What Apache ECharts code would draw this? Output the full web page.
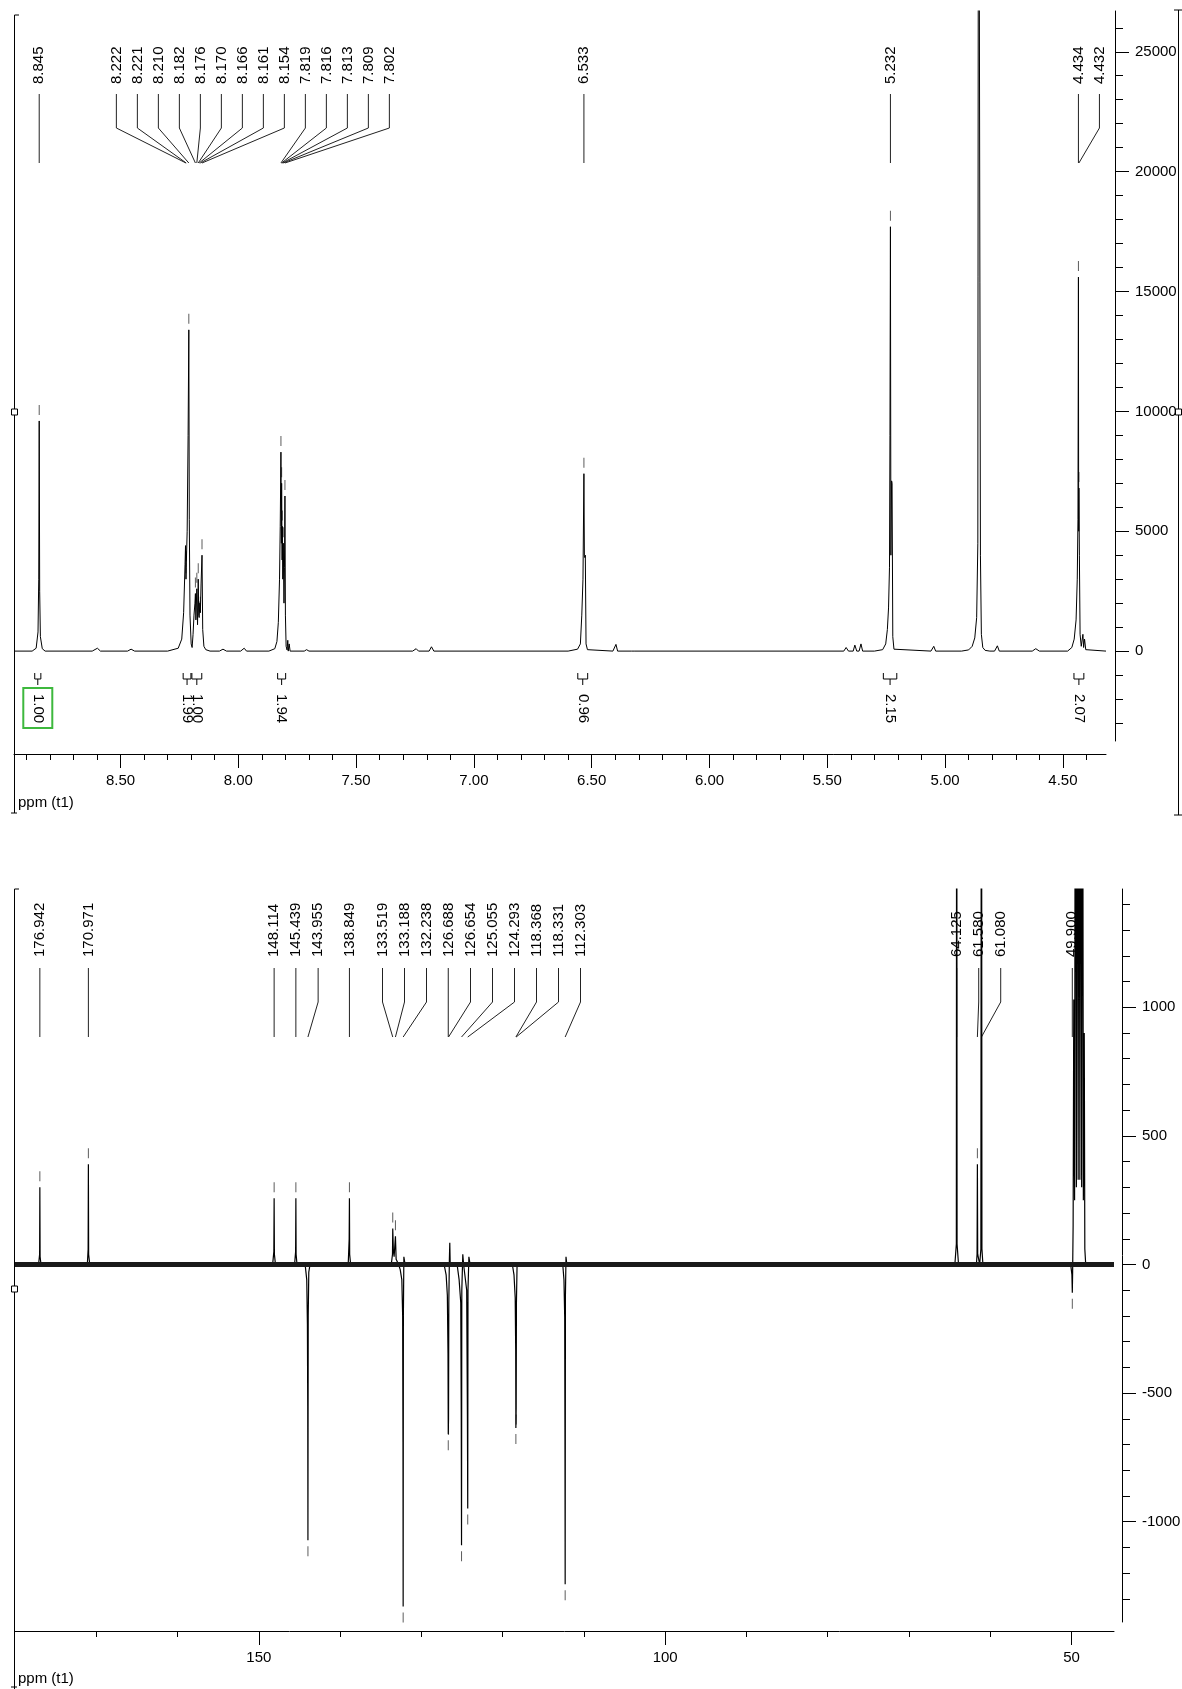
<!DOCTYPE html>
<html>
<head>
<meta charset="utf-8">
<title>NMR spectra</title>
<script src="https://cdn.jsdelivr.net/npm/echarts@6/dist/echarts.min.js"></script>
<style>
  html, body { margin: 0; padding: 0; background: #fff; }
  #chart { width: 1182px; height: 1689px; }
</style>
</head>
<body>
<div id="chart"></div>
<script>
// ---- 1H spectrum: [ppm, intensity]
const hTrace = [
  [8.952, 0], [8.875, 0], [8.858, 120], [8.850, 800], [8.847, 3000], [8.845, 9600], [8.843, 2500], [8.840, 600], [8.832, 100], [8.82, 0],
  [8.62, 0], [8.598, 120], [8.585, 0],
  [8.47, 0], [8.455, 80], [8.44, 0],
  [8.30, 0], [8.255, 120], [8.240, 500], [8.232, 1600], [8.226, 3600], [8.224, 4400], [8.222, 3000], [8.221, 3500], [8.217, 5000],
  [8.213, 9000], [8.210, 13400], [8.208, 5500], [8.205, 1500], [8.200, 300], [8.196, 150], [8.192, 700], [8.188, 1500], [8.184, 2000],
  [8.182, 2400], [8.180, 1300], [8.176, 2600], [8.173, 1100], [8.170, 3000], [8.168, 1500], [8.166, 1400], [8.163, 2000], [8.161, 1600],
  [8.158, 2800], [8.154, 4000], [8.151, 900], [8.146, 200], [8.138, 60], [8.12, 0],
  [8.08, 0], [8.065, 80], [8.05, 0], [7.99, 0], [7.975, 120], [7.965, 0],
  [7.87, 0], [7.845, 100], [7.836, 400], [7.830, 1200], [7.825, 3000], [7.822, 5200], [7.819, 8300], [7.817, 4500], [7.816, 7000],
  [7.814, 3800], [7.813, 5200], [7.811, 3000], [7.809, 4500], [7.806, 2000], [7.804, 3500], [7.802, 6470], [7.800, 1500], [7.797, 200],
  [7.793, 50], [7.790, 450], [7.788, 0], [7.784, 300], [7.780, 0],
  [7.72, 0], [7.71, 60], [7.70, 0],
  [7.26, 0], [7.245, 100], [7.235, 0], [7.19, 0], [7.18, 180], [7.17, 0],
  [6.60, 0], [6.560, 80], [6.548, 300], [6.542, 1500], [6.537, 3000], [6.533, 7400], [6.531, 4000], [6.529, 3900], [6.527, 4000],
  [6.524, 300], [6.518, 60], [6.51, 0],
  [6.41, 0], [6.397, 280], [6.39, 0], [6.33, 0], [6.325, 60], [6.32, 0],
  [5.43, 0], [5.42, 150], [5.41, 0], [5.39, 0], [5.383, 250], [5.375, 0], [5.365, 0], [5.357, 300], [5.35, 0],
  [5.30, 0], [5.265, 60], [5.252, 300], [5.245, 900], [5.240, 1800], [5.236, 3500], [5.234, 9000], [5.232, 17700], [5.230, 4000],
  [5.227, 7100], [5.225, 7000], [5.222, 600], [5.217, 80], [5.21, 0],
  [5.06, 0], [5.048, 200], [5.04, 0],
  [4.93, 0], [4.90, 50], [4.885, 200], [4.874, 550], [4.866, 1400], [4.861, 4500], [4.858, 45000], [4.853, 45000], [4.850, 4000],
  [4.846, 700], [4.84, 150], [4.83, 30], [4.81, 0],
  [4.79, 0], [4.778, 220], [4.77, 0],
  [4.63, 0], [4.615, 100], [4.60, 0],
  [4.48, 0], [4.462, 150], [4.452, 500], [4.444, 1300], [4.439, 3000], [4.436, 5500], [4.434, 15600], [4.433, 5000], [4.432, 6800],
  [4.430, 4000], [4.427, 700], [4.422, 200], [4.415, 700], [4.412, 150], [4.408, 500], [4.403, 60], [4.395, 0], [4.317, 0]
];
const hPeakPpm = [8.845, 8.222, 8.221, 8.210, 8.182, 8.176, 8.170, 8.166, 8.161, 8.154, 7.819, 7.816, 7.813, 7.809, 7.802, 6.533, 5.232, 4.434, 4.432];
const hPeakHeight = [9600, 3000, 3500, 13400, 2400, 2600, 3000, 1400, 1600, 4000, 8300, 7000, 5200, 4500, 6470, 7400, 17700, 15600, 6800];
const hIntegralRange = [[8.864, 8.838], [8.234, 8.201], [8.197, 8.155], [7.833, 7.799], [6.559, 6.517], [5.262, 5.205], [4.453, 4.411]];
const hIntegralValue = ['1.00', '1.99', '1.00', '1.94', '0.96', '2.15', '2.07'];
const hXLabels = [8.5, 8.0, 7.5, 7.0, 6.5, 6.0, 5.5, 5.0, 4.5];
const hYLabels = [0, 5000, 10000, 15000, 20000, 25000];

// ---- 13C spectrum (negative = inverted CH/CH3 lines)
const cTrace = [
  [180, 0],
  [177.1, 0], [176.97, 40], [176.942, 300], [176.91, 30], [176.8, 0],
  [171.1, 0], [171.0, 60], [170.971, 390], [170.94, 40], [170.8, 0],
  [148.3, 0], [148.15, 50], [148.114, 258], [148.08, 40], [147.95, 0],
  [145.6, 0], [145.47, 50], [145.439, 258], [145.41, 40], [145.3, 0],
  [144.3, 0], [144.1, -60], [144.02, -230], [143.98, -550], [143.955, -1072], [143.92, -200], [143.85, -30], [143.7, 0],
  [139.0, 0], [138.88, 100], [138.849, 258], [138.82, 40], [138.7, 0],
  [133.7, 0], [133.55, 40], [133.519, 140], [133.45, 60], [133.35, 30], [133.188, 110], [133.1, 20], [132.8, 0],
  [132.6, -20], [132.4, -60], [132.3, -200], [132.26, -690], [132.238, -1330], [132.21, -200], [132.15, 30], [132.0, 0],
  [127.2, 0], [126.95, -40], [126.80, -120], [126.72, -345], [126.688, -660], [126.654, -600], [126.62, -150], [126.55, 20],
  [126.50, 85], [126.45, 0],
  [125.6, 0], [125.35, -60], [125.15, -150], [125.09, -580], [125.055, -1092], [125.02, -100], [124.90, 40], [124.80, 0],
  [124.6, 0], [124.42, -100], [124.33, -600], [124.293, -949], [124.26, -100], [124.15, 30], [124.0, 0],
  [118.8, 0], [118.6, -40], [118.45, -130], [118.39, -333], [118.368, -636], [118.331, -560], [118.30, -150], [118.22, 0],
  [112.6, 0], [112.45, -60], [112.36, -203], [112.33, -643], [112.303, -1243], [112.27, -120], [112.2, 30], [112.1, 0],
  [64.35, 0], [64.17, 80], [64.125, 3000], [64.08, 80], [63.9, 0],
  [61.7, 0], [61.62, 40], [61.580, 390], [61.54, 40], [61.3, 0], [61.15, 60], [61.080, 3000], [61.02, 60], [60.9, 0],
  [50.10, 0], [49.95, -40], [49.90, -110], [49.86, -30], [49.80, 150], [49.72, 1030], [49.62, 250], [49.51, 3000], [49.40, 300],
  [49.29, 3000], [49.18, 330], [49.08, 3000], [48.97, 330], [48.86, 3000], [48.75, 300], [48.65, 3000], [48.54, 250], [48.43, 900],
  [48.36, 60], [48.25, 0],
  [44.77, 0]
];
const cPeakPpm = [176.942, 170.971, 148.114, 145.439, 143.955, 138.849, 133.519, 133.188, 132.238, 126.688, 126.654, 125.055,
  124.293, 118.368, 118.331, 112.303, 64.125, 61.580, 61.080, 49.900];
const cPeakHeight = [300, 390, 258, 258, -1072, 258, 140, 110, -1330, -660, -600, -1092, -949, -636, -560, -1243, 3000, 390, 3000, -110];
const cXLabels = [150, 100, 50];
const cYLabels = [-1000, -500, 0, 500, 1000];

const font = "'Liberation Sans', Arial, sans-serif";

function steps(from, to, step) {
  const out = [];
  for (let v = from; v <= to + step / 1000; v += step) out.push(+v.toFixed(3));
  return out;
}

function xAxes(grid, min, max, minor, major, digits, offset) {
  return [
    {
      type: 'value', gridIndex: grid, min: min, max: max, inverse: true, position: 'bottom', offset: offset,
      axisLine: { onZero: false, lineStyle: { color: '#000', width: 1 } },
      axisTick: { customValues: minor, length: 6, lineStyle: { color: '#000' } },
      axisLabel: { show: false },
      splitLine: { show: false }
    },
    {
      type: 'value', gridIndex: grid, min: min, max: max, inverse: true, position: 'bottom', offset: offset,
      axisLine: { show: false, onZero: false },
      axisTick: { customValues: major, length: 14, lineStyle: { color: '#000' } },
      axisLabel: { customValues: major, formatter: v => v.toFixed(digits), margin: 19, fontSize: 15, color: '#000', fontFamily: font },
      splitLine: { show: false }
    }
  ];
}

function yAxes(grid, min, max, minor, major, offset) {
  return [
    {
      type: 'value', gridIndex: grid, min: min, max: max, position: 'right', offset: offset,
      axisLine: { show: true, onZero: false, lineStyle: { color: '#000', width: 1 } },
      axisTick: { customValues: minor, length: 8, lineStyle: { color: '#000' } },
      axisLabel: { show: false },
      splitLine: { show: false }
    },
    {
      type: 'value', gridIndex: grid, min: min, max: max, position: 'right', offset: offset,
      axisLine: { show: false, onZero: false },
      axisTick: { customValues: major, length: 14, lineStyle: { color: '#000' } },
      axisLabel: { customValues: major, formatter: v => String(v), margin: 20, fontSize: 15, color: '#000', fontFamily: font },
      splitLine: { show: false }
    }
  ];
}

function markers(ppm, height) {
  return ppm.map((p, i) => ({ value: [p, height[i]], symbolOffset: [0, height[i] >= 0 ? -11 : 11] }));
}

const mChart = echarts.init(document.getElementById('chart'));

const option = {
  animation: false,
  backgroundColor: '#fff',
  textStyle: { fontFamily: font },
  grid: [
    { left: 14, top: 11, width: 1092, height: 730, outerBoundsMode: 'none' },
    { left: 15, top: 889, width: 1099, height: 733, outerBoundsMode: 'none' }
  ],
  xAxis: [].concat(
    xAxes(0, 4.317, 8.952, steps(4.4, 8.9, 0.1), hXLabels, 2, 13),
    xAxes(1, 44.77, 180, steps(50, 170, 10), cXLabels, 0, 9)
  ),
  yAxis: [].concat(
    yAxes(0, -3750, 26700, steps(-3000, 26000, 1000), hYLabels, 9),
    yAxes(1, -1390, 1460, steps(-1300, 1400, 100), cYLabels, 8)
  ),
  series: [
    {
      name: '1H', type: 'line', xAxisIndex: 0, yAxisIndex: 0, data: hTrace,
      symbol: 'none', lineStyle: { color: '#000', width: 1 }, silent: true
    },
    {
      name: '1H peaks', type: 'scatter', xAxisIndex: 0, yAxisIndex: 0, data: markers(hPeakPpm, hPeakHeight),
      symbol: 'rect', symbolSize: [1, 10], itemStyle: { color: '#333' }, silent: true
    },
    {
      name: '13C', type: 'line', xAxisIndex: 2, yAxisIndex: 2, data: cTrace,
      symbol: 'none', lineStyle: { color: '#000', width: 1.2 }, silent: true,
      // noise band of the baseline
      markLine: {
        silent: true, symbol: 'none', label: { show: false },
        lineStyle: { color: '#1a1a1a', width: 5, type: 'solid' },
        data: [{ yAxis: 0 }]
      }
    },
    {
      name: '13C peaks', type: 'scatter', xAxisIndex: 2, yAxisIndex: 2, data: markers(cPeakPpm, cPeakHeight),
      symbol: 'rect', symbolSize: [1, 10], itemStyle: { color: '#333' }, silent: true
    }
  ]
};

mChart.setOption(option);

// labels that collide are grouped; small groups pushed right, big groups spread round their middle
function spread(ideal, gap) {
  const pushRight = g => {
    const out = [];
    g.forEach((i, k) => out.push(k === 0 ? ideal[i] : Math.max(ideal[i], out[k - 1] + gap)));
    return out;
  };
  const place = g => {
    const pr = pushRight(g);
    if (g.length <= 3) return pr;
    const mid = 0.8 * (ideal[g[0]] + ideal[g[g.length - 1]]) / 2 + 0.2 * (pr[0] + pr[pr.length - 1]) / 2;
    return g.map((i, k) => mid + (k - (g.length - 1) / 2) * gap);
  };
  const groups = [];
  let last = -Infinity;
  ideal.forEach((v, i) => {
    if (!groups.length || v >= last + gap) {
      groups.push([i]);
      last = v;
    } else {
      groups[groups.length - 1].push(i);
      last = last + gap;
    }
  });
  let merged = true;
  while (merged) {
    merged = false;
    for (let j = 0; j < groups.length - 1; j++) {
      const a = place(groups[j]), b = place(groups[j + 1]);
      if (b[0] - a[a.length - 1] < gap - 0.01) {
        groups.splice(j, 2, groups[j].concat(groups[j + 1]));
        merged = true;
        break;
      }
    }
  }
  return [].concat(...groups.map(place));
}

function peakLabels(ppms, axis, gap, yText, yTop, yBend, yEnd) {
  const ideal = ppms.map(p => mChart.convertToPixel({ xAxisIndex: axis }, p));
  const pos = spread(ideal, gap);
  const els = [];
  ppms.forEach((p, i) => {
    els.push({
      type: 'text', x: pos[i], y: yText, rotation: Math.PI / 2, z: 0,
      style: { text: p.toFixed(3), font: '15px ' + font, fill: '#000', align: 'left', verticalAlign: 'middle', textAlign: 'left', textVerticalAlign: 'middle' }
    });
    const pts = Math.abs(pos[i] - ideal[i]) < 0.5
      ? [[ideal[i], yTop], [ideal[i], yEnd]]
      : [[pos[i], yTop], [pos[i], yBend], [ideal[i], yEnd]];
    els.push({ type: 'polyline', z: 0, shape: { points: pts }, style: { stroke: '#222', lineWidth: 1, fill: null } });
  });
  return els;
}

function integrals() {
  const els = [];
  hIntegralRange.forEach((r, i) => {
    const x1 = mChart.convertToPixel({ xAxisIndex: 0 }, r[0]);
    const x2 = mChart.convertToPixel({ xAxisIndex: 0 }, r[1]);
    const cx = (x1 + x2) / 2;
    els.push({ type: 'polyline', z: 0, shape: { points: [[x1, 673], [x1, 679], [x2, 679], [x2, 673]] }, style: { stroke: '#000', lineWidth: 1, fill: null } });
    els.push({ type: 'line', z: 0, shape: { x1: cx, y1: 679, x2: cx, y2: 685 }, style: { stroke: '#000', lineWidth: 1 } });
    els.push({
      type: 'text', x: cx, y: 694, rotation: -Math.PI / 2, z: 0,
      style: { text: hIntegralValue[i], font: '15px ' + font, fill: '#000', align: 'left', verticalAlign: 'middle', textAlign: 'left', textVerticalAlign: 'middle' }
    });
    if (i === 0) {
      els.push({ type: 'rect', z: 0, shape: { x: cx - 14.5, y: 688, width: 29, height: 40 }, style: { stroke: '#3db83d', lineWidth: 2, fill: null } });
    }
  });
  return els;
}

function frame() {
  const line = (x1, y1, x2, y2) => ({ type: 'line', z: 5, shape: { x1: x1, y1: y1, x2: x2, y2: y2 }, style: { stroke: '#000', lineWidth: 1 } });
  const square = (x, y) => ({ type: 'rect', z: 6, shape: { x: x - 3, y: y - 3, width: 6, height: 6 }, style: { stroke: '#000', fill: '#fff', lineWidth: 1 } });
  return [
    { type: 'rect', z: 4, shape: { x: 1177, y: 0, width: 5, height: 830 }, style: { fill: '#fff' } },
    line(14.5, 15, 14.5, 813), line(14.5, 15, 19, 15), line(11, 813, 17, 813),
    line(1178.5, 10, 1178.5, 815), line(1174, 10, 1182, 10), line(1174, 815, 1182, 815),
    line(14.5, 889, 14.5, 1689), line(14.5, 889, 19, 889), line(11, 1687, 17, 1687),
    square(14.5, 412), square(1178.5, 412), square(14.5, 1289),
    { type: 'text', x: 18, y: 803, z: 5, style: { text: 'ppm (t1)', font: '15px ' + font, fill: '#000', verticalAlign: 'middle', textVerticalAlign: 'middle' } },
    { type: 'text', x: 18, y: 1679, z: 5, style: { text: 'ppm (t1)', font: '15px ' + font, fill: '#000', verticalAlign: 'middle', textVerticalAlign: 'middle' } }
  ];
}

mChart.setOption({
  graphic: [].concat(
    peakLabels(hPeakPpm, 0, 21, 84, 94, 128, 163),
    peakLabels(cPeakPpm, 2, 22, 957, 968, 1002, 1037),
    integrals(),
    frame()
  )
});

window.addEventListener('resize', function () {
  mChart.resize();
});
</script>
</body>
</html>
